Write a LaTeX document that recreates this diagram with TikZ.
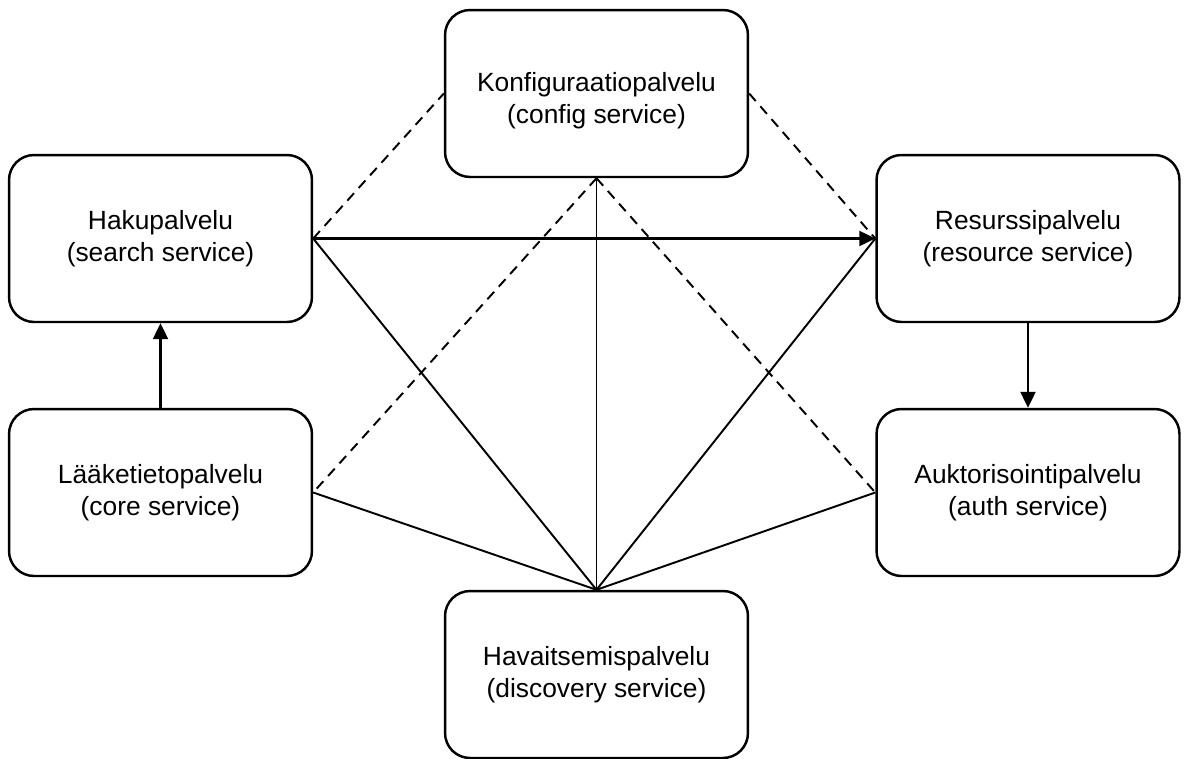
\documentclass[tikz,border=0pt]{standalone}
\usepackage{fontspec}
\setmainfont{Liberation Sans}
\usetikzlibrary{arrows.meta}
\begin{document}
\begin{tikzpicture}[x=0.02cm,y=-0.02cm,
  svc/.style={draw,line width=1.4pt,rounded corners=0.5cm,minimum width=6.06cm,minimum height=3.34cm,align=center,font=\fontsize{15}{18.2}\selectfont,inner sep=0pt},
  lbl/.style={align=center,font=\fontsize{15}{18.2}\selectfont,inner sep=0pt},
  conn/.style={line width=1.1pt},
  dsh/.style={line width=1.1pt,dash pattern=on 0.2cm off 0.14cm},
  arr/.style={line width=1.3pt,-{Triangle[length=0.32cm,width=0.3cm]}}]
\useasboundingbox (0,0) rectangle (1187,758);
\node[svc] (conf) at (596.5,93.5) {};
\node[lbl] (conftext) at (596.5,101) {Konfiguraatiopalvelu\\(config service)};
\node[svc] (haku) at (160.5,238.5) {Hakupalvelu\\(search service)};
\node[svc] (res) at (1028,238.5) {Resurssipalvelu\\(resource service)};
\node[svc] (laake) at (160.5,492.5) {Lääketietopalvelu\\(core service)};
\node[svc] (auk) at (1028,492.5) {Auktorisointipalvelu\\(auth service)};
\node[svc] (hav) at (596.5,674.5) {Havaitsemispalvelu\\(discovery service)};
\draw[dsh] (haku.east) -- (conf.west);
\draw[dsh] (conf.east) -- (res.west);
\draw[dsh] (conf.south) -- (laake.east);
\draw[dsh] (conf.south) -- (auk.west);
\draw[conn] (conf.south) -- (hav.north);
\draw[conn] (haku.east) -- (hav.north);
\draw[conn] (res.west) -- (hav.north);
\draw[conn] (laake.east) -- (hav.north);
\draw[conn] (auk.west) -- (hav.north);
\draw[arr] (haku.east) -- (res.west);
\draw[arr] (laake.north) -- (haku.south);
\draw[arr] (res.south) -- (auk.north);
\end{tikzpicture}
\end{document}
